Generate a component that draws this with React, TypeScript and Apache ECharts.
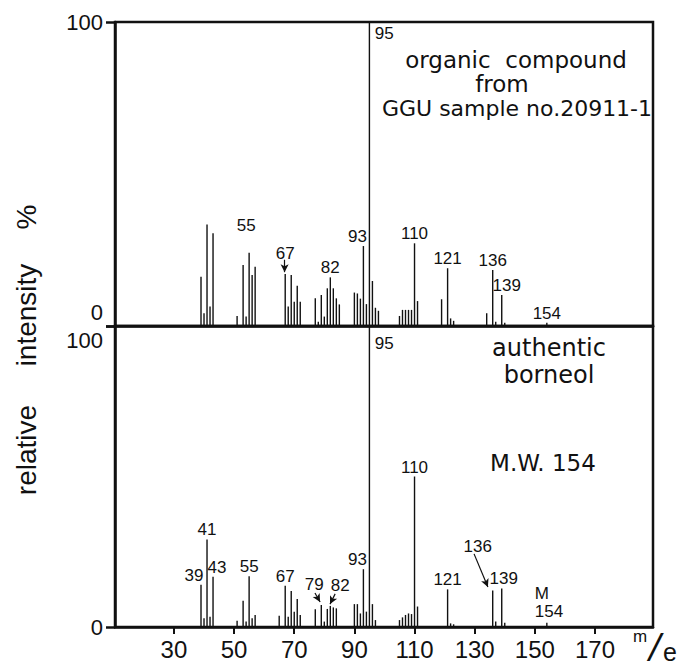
import React, { useEffect, useRef } from "react";
import * as echarts from "echarts";

// m/e axis
const massMin = 10.4;
const massMax = 189.3;
const massTicks = [30, 50, 70, 90, 110, 130, 150, 170];

// Organic compound from GGU sample no. 20911-1: m/e and relative intensity (%)
const sampleMass = [
  39, 40, 41, 42, 43, 51, 53, 54, 55, 56, 57, 67, 68, 69, 70, 71, 72, 77, 78, 79, 80, 81, 82, 83, 84, 85,
  90, 91, 92, 93, 94, 95, 96, 97, 98, 105, 106, 107, 108, 109, 110, 111, 119, 121, 122, 123, 134, 136,
  137, 139, 140, 154,
];
const sampleIntensity = [
  16.2, 4.2, 33.4, 6.4, 30.5, 3.3, 20.1, 3.1, 24.1, 16.8, 19.5, 17.1, 6.4, 16.8, 8.0, 13.2, 8.0, 9.1, 1.4,
  10.2, 3.1, 12.4, 16.0, 12.4, 9.1, 7.1, 11.0, 10.7, 9.0, 26.3, 7.2, 100, 14.8, 6.0, 5.0, 3.3, 5.3, 5.3,
  5.3, 5.3, 27.2, 8.2, 8.8, 19.0, 2.5, 1.7, 4.2, 18.4, 1.4, 10.2, 1.1, 1.1,
];
const sampleLabelled = [55, 67, 82, 93, 95, 110, 121, 136, 139, 154];

// Authentic borneol (M.W. 154)
const borneolMass = [
  39, 40, 41, 42, 43, 51, 53, 54, 55, 56, 57, 65, 67, 68, 69, 70, 71, 72, 77, 79, 80, 81, 82, 83, 84, 90,
  91, 92, 93, 94, 95, 96, 97, 105, 106, 107, 108, 109, 110, 111, 121, 122, 123, 136, 137, 139, 140, 154,
];
const borneolIntensity = [
  14.0, 2.9, 29.1, 3.4, 16.7, 2.1, 8.7, 1.8, 16.9, 2.9, 4.0, 3.7, 13.7, 3.4, 12.0, 5.1, 9.3, 4.0, 5.9, 7.3,
  1.8, 6.0, 7.0, 6.5, 6.2, 7.6, 7.6, 4.5, 19.2, 5.1, 100, 7.6, 2.3, 2.3, 3.2, 4.0, 4.5, 4.3, 50, 6.8, 12.5,
  1.2, 0.9, 12.1, 1.8, 12.8, 1.4, 1.4,
];
const borneolLabelled = [39, 41, 43, 55, 67, 79, 82, 93, 95, 110, 121, 136, 139, 154];
const borneolLabelText: Record<number, string> = { 154: "M\n154" };

// Pointer arrows [fromMass, fromIntensity, toMass, toIntensity]
const sampleArrows = [[66.8, 21.8, 66.8, 17.7]];
const borneolArrows = [
  [76.9, 11.3, 78.6, 8.3],
  [83.6, 11.0, 81.9, 7.6],
  [129.8, 24.3, 134.4, 13.3],
];

const INK = "#111";
const SANS = "'Liberation Sans', Arial, sans-serif";
const TEXT_FONT = "'DejaVu Sans', sans-serif";

// Label placement per peak
const sampleLabelPlace: Record<number, object> = {
  55: { distance: 19, offset: [-3, 0] },
  67: { distance: 12 },
  93: { offset: [-6, 0] },
  95: { position: [6, 3] },
  139: { offset: [5, 0] },
};
const borneolLabelPlace: Record<number, object> = {
  39: { offset: [-7, 0] },
  43: { offset: [4, 0] },
  79: { distance: 12, offset: [-7, 0] },
  82: { distance: 12, offset: [10, 0] },
  93: { offset: [-6, 0] },
  95: { position: [6, 9] },
  136: { distance: 36, offset: [-15, 0] },
  139: { offset: [2, 0] },
  154: { distance: 2, offset: [-12, 0], align: "left", lineHeight: 18 },
};

function peaks(
  mass: number[],
  intensity: number[],
  labelled: number[],
  place: Record<number, object>,
  text: Record<number, string>
) {
  return mass.map((m, i) => {
    const item: any = { value: [m, intensity[i]] };
    if (labelled.includes(m)) {
      item.label = {
        show: true,
        formatter: text[m] ?? String(m),
        ...(place[m] || {}),
      };
    }
    return item;
  });
}

function arrows(list: number[][]) {
  return list.map(([x1, y1, x2, y2]) => [{ coord: [x1, y1] }, { coord: [x2, y2] }]);
}

const barLabel = {
  show: false,
  position: "top",
  distance: 1,
  color: INK,
  fontSize: 17,
  fontFamily: SANS,
};

const markArrows = (list: number[][]) => ({
  silent: true,
  symbol: ["none", "arrow"],
  symbolSize: [6, 8],
  label: { show: false },
  lineStyle: { color: INK, width: 1.2, type: "solid" },
  emphasis: { disabled: true },
  data: arrows(list),
});

const xBase = {
  type: "value",
  min: massMin,
  max: massMax,
  splitLine: { show: false },
  axisLine: { show: true, onZero: false, lineStyle: { color: INK, width: 2.5 } },
};

const yBase = {
  type: "value",
  min: 0,
  max: 100,
  interval: 100,
  splitLine: { show: false },
  axisLine: { show: true, lineStyle: { color: INK, width: 2.5 } },
  axisTick: { show: true, length: 9, lineStyle: { color: INK, width: 2.5 } },
};

const yLabel = {
  color: INK,
  fontSize: 22,
  fontFamily: SANS,
  margin: 12,
};

function txt(
  text: string,
  x: number,
  y: number,
  size: number,
  family = TEXT_FONT,
  rotation = 0,
  fontStyle = "normal"
) {
  return {
    type: "text",
    x,
    y,
    rotation,
    silent: true,
    style: {
      text,
      x: 0,
      y: 0,
      fill: INK,
      fontSize: size,
      fontFamily: family,
      fontStyle,
      align: "center",
      verticalAlign: "middle",
      textAlign: "center",
      textVerticalAlign: "middle",
    },
  };
}

const option = {
  animation: false,
  backgroundColor: "#fff",
  grid: [
    { left: 115, top: 22, width: 538, height: 304, show: true, borderColor: INK, borderWidth: 2.5 },
    { left: 115, top: 326, width: 538, height: 301, show: true, borderColor: INK, borderWidth: 2.5 },
  ],
  xAxis: [
    { ...xBase, gridIndex: 0, axisTick: { show: false }, axisLabel: { show: false } },
    {
      ...xBase,
      gridIndex: 1,
      axisTick: { show: true, customValues: massTicks, length: 7, lineStyle: { color: INK, width: 2 } },
      axisLabel: {
        customValues: massTicks,
        color: INK,
        fontSize: 24,
        fontFamily: SANS,
        margin: 10,
      },
    },
  ],
  yAxis: [
    {
      ...yBase,
      gridIndex: 0,
      axisLabel: { ...yLabel, verticalAlignMinLabel: "bottom", padding: [0, 0, 3, 0] },
    },
    {
      ...yBase,
      gridIndex: 1,
      axisLabel: { ...yLabel, verticalAlignMaxLabel: "top", padding: [3, 0, 0, 0] },
    },
  ],
  series: [
    {
      type: "bar",
      xAxisIndex: 0,
      yAxisIndex: 0,
      barWidth: 1.4,
      itemStyle: { color: INK },
      label: barLabel,
      emphasis: { disabled: true },
      data: peaks(sampleMass, sampleIntensity, sampleLabelled, sampleLabelPlace, {}),
      markLine: markArrows(sampleArrows),
    },
    {
      type: "bar",
      xAxisIndex: 1,
      yAxisIndex: 1,
      barWidth: 1.4,
      itemStyle: { color: INK },
      label: barLabel,
      emphasis: { disabled: true },
      data: peaks(borneolMass, borneolIntensity, borneolLabelled, borneolLabelPlace, borneolLabelText),
      markLine: markArrows(borneolArrows),
    },
  ],
  graphic: [
    txt("organic  compound", 516, 60, 23),
    txt("from", 502, 84, 23),
    txt("GGU sample no.20911-1", 517, 108, 22),
    txt("authentic", 549, 348, 24),
    txt("borneol", 549, 375, 24),
    txt("M.W. 154", 543, 463, 23),
    txt("relative", 26, 450, 28, SANS, Math.PI / 2),
    txt("intensity", 26, 315, 28, SANS, Math.PI / 2),
    txt("%", 26, 217, 28, SANS, Math.PI / 2),
    txt("m", 640, 636, 17, SANS),
    txt("/", 655, 646, 34, TEXT_FONT, 0, "italic"),
    txt("e", 670, 652, 25, SANS),
  ],
};

export default function App() {
  const ref = useRef<HTMLDivElement>(null);
  useEffect(() => {
    const chart = echarts.init(ref.current!, null, { renderer: "svg" });
    chart.setOption(option as any);
    return () => chart.dispose();
  }, []);
  return (
    <div
      ref={ref}
      style={{ position: "fixed", left: 0, top: 0, width: 678, height: 665, background: "#fff" }}
    />
  );
}
